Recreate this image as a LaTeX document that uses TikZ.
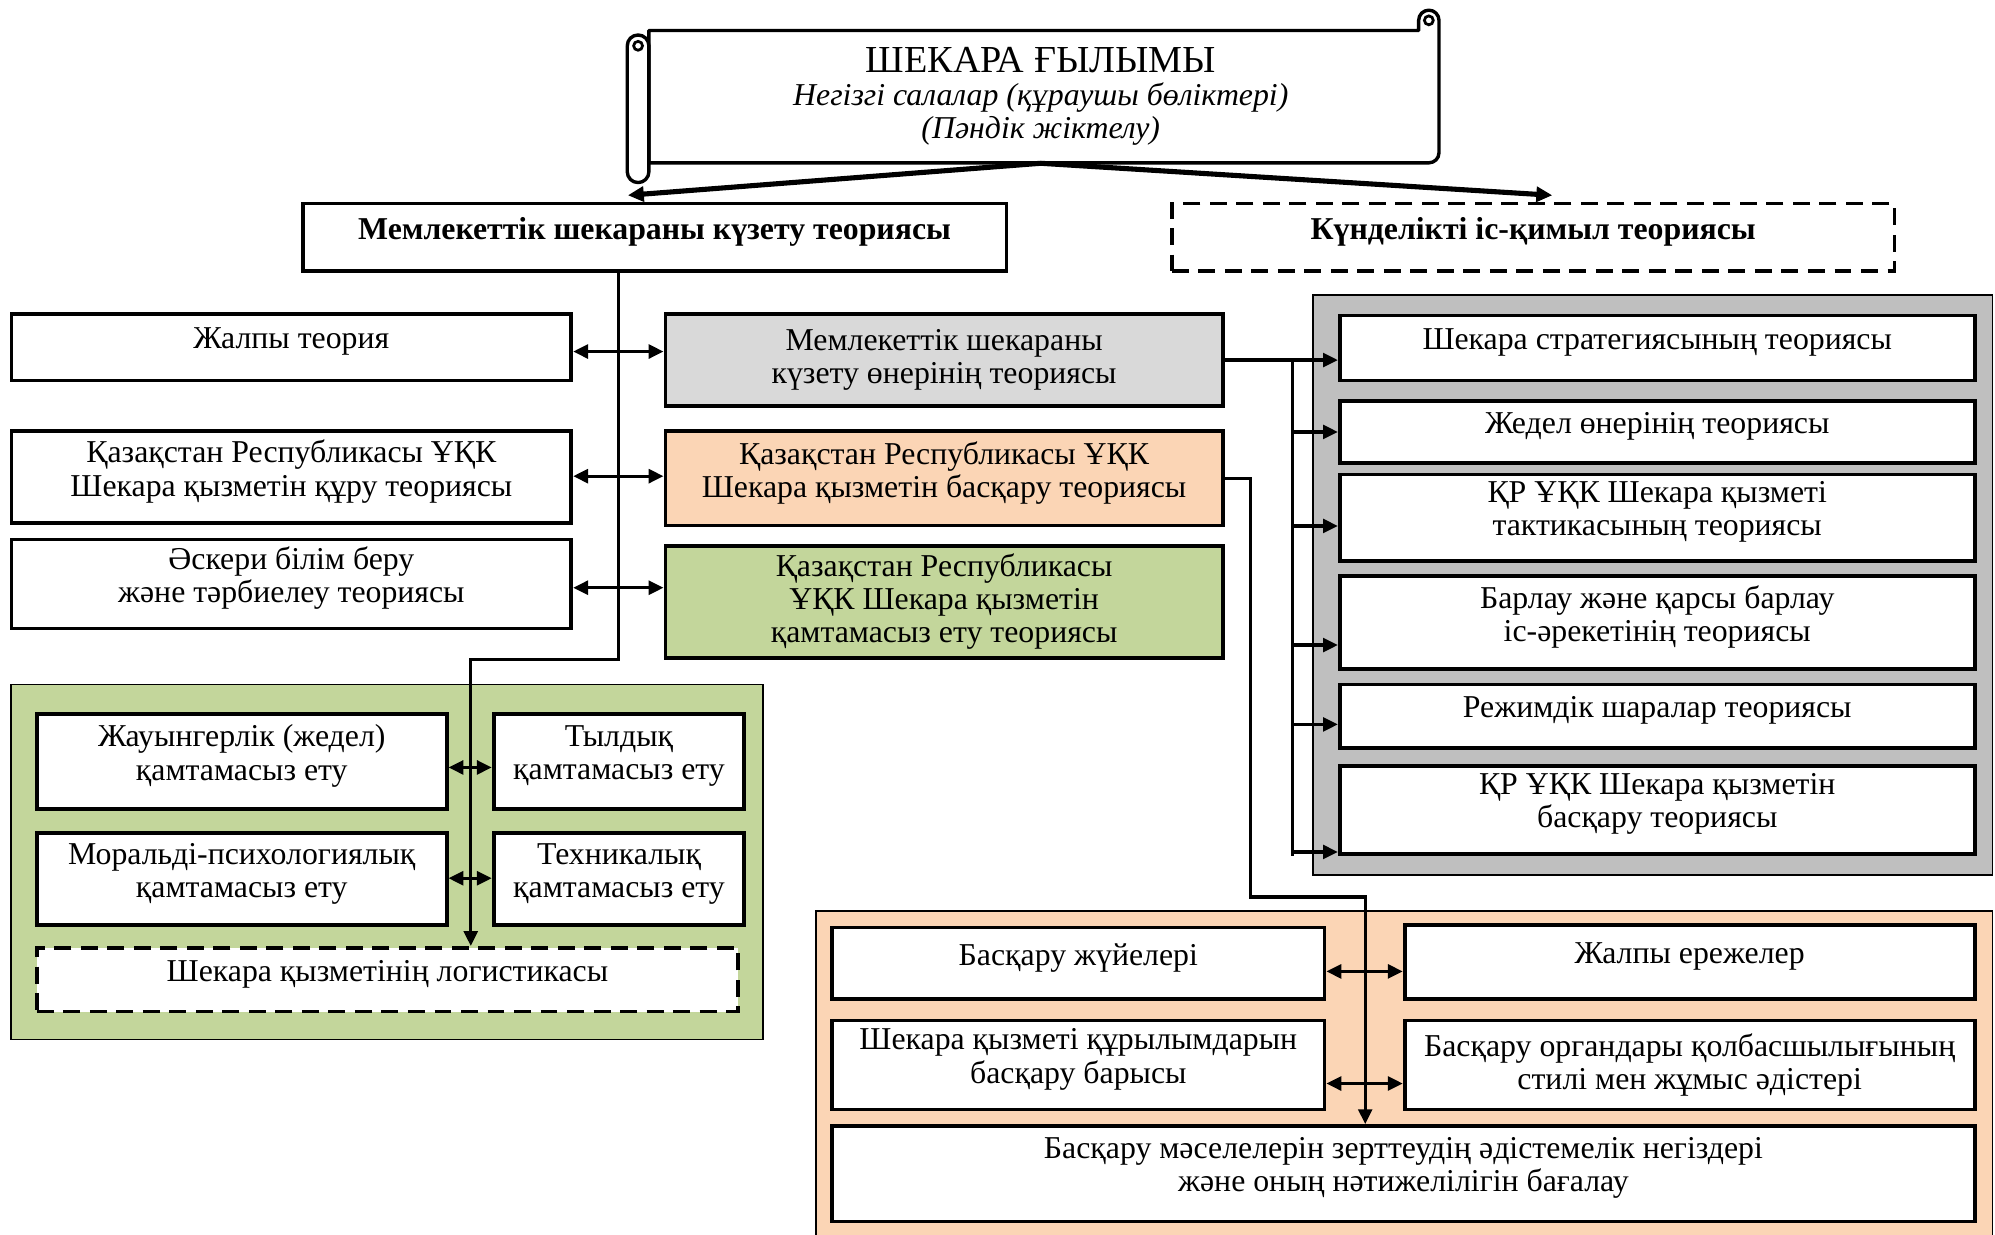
\documentclass[tikz,border=0pt]{standalone}
\usepackage{fontspec}
\setmainfont{Liberation Serif}
\usepackage{tikz}
\usetikzlibrary{arrows.meta, calc}
\definecolor{panelgray}{HTML}{BFBFBF}
\definecolor{boxgray}{HTML}{D9D9D9}
\definecolor{peach}{HTML}{FBD5B5}
\definecolor{leaf}{HTML}{C3D69B}
\tikzset{
	wh/.style 2 args = {minimum width=#1*0.6pt, minimum height=#2*0.6pt},
	block/.style     = {shape=rectangle, draw, line width=1.8pt,
		fill=white, align=center, inner sep=0pt, text depth=8.5pt},
	midblock/.style  = {block, text depth=},
	dashblock/.style = {block, dash pattern=on 8pt off 4.5pt},
	panel/.style     = {draw, line width=0.9pt},
	scrolline/.style = {draw, line width=1.6pt, line join=round},
	link/.style      = {draw, line width=1.5pt},
	tolink/.style    = {link, -{Triangle[length=7pt, width=6.5pt]}},
	twolink/.style   = {link, {Triangle[length=7pt, width=6.5pt]}-{Triangle[length=7pt, width=6.5pt]}},
	bigarrow/.style  = {draw, line width=2.4pt, -{Triangle[length=7.5pt, width=7pt]}}
}
\begin{document}
\begin{tikzpicture}
	[
	x                 = 0.6pt,
	y                 = -0.6pt,
	every node/.style = {font=\fontsize{15}{15.6}\selectfont}
	]
	\useasboundingbox (0,0) rectangle (1568,970);
	\clip (0,0) rectangle (1568,970);
	% scroll
	\path[scrolline, fill=white] (510,24) -- (1115,24) -- (1115,16)
		arc[start angle=180, end angle=360, radius=8] -- (1131,120)
		arc[start angle=0, end angle=90, radius=8] -- (510,128) -- cycle;
	\draw[line width=1.3pt] (1123,16) circle[radius=3.5];
	\path[scrolline, fill=white] (493,36) -- (493,135)
		arc[start angle=180, end angle=0, radius=8.5] -- (510,36)
		arc[start angle=0, end angle=-180, radius=8.5];
	\draw[line width=1.3pt] (501.5,36) circle[radius=3.5];
	\node[align=center, inner sep=0pt, wh={621}{104}] (scroll) at (818,76)
		{{\fontsize{18}{20}\selectfont ШЕКАРА ҒЫЛЫМЫ}\\
		\textit{Негізгі салалар (құраушы бөліктері)}\\
		\textit{(Пәндік жіктелу)}};
	% panels
	\path[panel, fill=panelgray] (1032,232) rectangle (1566,688);
	\path[panel, fill=leaf] (9,538) rectangle (600,817);
	\path[panel, fill=peach] (641,716) rectangle (1566,1000);
	% top row
	\node[block, wh={553}{53}] (state) at (514.5,186.5)
		{\textbf{Мемлекеттік шекараны күзету теориясы}};
	\node[dashblock, wh={568}{53}] (daily) at (1205,186.5)
		{\textbf{Күнделікті іс-қимыл теориясы}};
	% left column
	\node[block, wh={440}{52}] (gen) at (229,273) {Жалпы теория};
	\node[block, wh={440}{72}] (build) at (229,375)
		{Қазақстан Республикасы ҰҚК\\Шекара қызметін құру теориясы};
	\node[block, wh={440}{70}] (edu) at (229,459)
		{Әскери білім беру\\және тәрбиелеу теориясы};
	% middle column
	\node[midblock, fill=boxgray, wh={438}{72}] (art) at (742,283)
		{Мемлекеттік шекараны\\күзету өнерінің теориясы};
	\node[block, fill=peach, wh={438}{74}] (mgmt) at (742,376)
		{Қазақстан Республикасы ҰҚК\\Шекара қызметін басқару теориясы};
	\node[midblock, fill=leaf, wh={438}{88}] (sup) at (742,473)
		{Қазақстан Республикасы\\ҰҚК Шекара қызметін\\қамтамасыз ету теориясы};
	% gray panel
	\node[block, wh={499}{51}] (r1) at (1302.5,273.5) {Шекара стратегиясының теориясы};
	\node[block, wh={499}{49}] (r2) at (1302.5,339.5) {Жедел өнерінің теориясы};
	\node[block, wh={499}{68}] (r3) at (1302.5,407)
		{ҚР ҰҚК Шекара қызметі\\тактикасының теориясы};
	\node[block, wh={499}{73}] (r4) at (1302.5,489.5)
		{Барлау және қарсы барлау\\іс-әрекетінің теориясы};
	\node[block, wh={499}{50}] (r5) at (1302.5,563) {Режимдік шаралар теориясы};
	\node[block, wh={499}{69}] (r6) at (1302.5,636.5)
		{ҚР ҰҚК Шекара қызметін\\басқару теориясы};
	% green panel
	\node[block, wh={322}{75}] (comb) at (190,598.5)
		{Жауынгерлік (жедел)\\қамтамасыз ету};
	\node[block, wh={197}{75}] (rear) at (486.5,598.5)
		{Тылдық\\қамтамасыз ету};
	\node[block, wh={322}{72}] (moral) at (190,691)
		{Моральді-психологиялық\\қамтамасыз ету};
	\node[block, wh={197}{72}] (tech) at (486.5,691)
		{Техникалық\\қамтамасыз ету};
	\node[dashblock, wh={551}{50}] (log) at (304.5,770)
		{Шекара қызметінің логистикасы};
	% peach panel
	\node[block, wh={387}{56}] (sys) at (847.5,757) {Басқару жүйелері};
	\node[block, wh={448}{58}] (rules) at (1328,756) {Жалпы ережелер};
	\node[block, wh={387}{70}] (proc) at (847.5,837)
		{Шекара қызметі құрылымдарын\\басқару барысы};
	\node[midblock, wh={448}{70}] (org) at (1328,837)
		{Басқару органдары қолбасшылығының\\стилі мен жұмыс әдістері};
	\node[block, wh={898}{75}] (meth) at (1103,922.5)
		{Басқару мәселелерін зерттеудің әдістемелік негіздері\\және оның нәтижелілігін бағалау};
	% connectors
	\draw[bigarrow] (scroll.south) -- ($(state.north)+(-21,-5)$);
	\draw[bigarrow] (scroll.south) -- ($(daily.north)+(15,-5)$);
	\coordinate (trunk) at (486,0);
	\coordinate (gtrunk) at (370,0);
	\draw[tolink] (state.south -| trunk) -- (trunk |- sup.south) -| (log.north -| gtrunk);
	\foreach \a/\b/\f in {gen/art/0.44, build/mgmt/0.51, edu/sup/0.46,
		comb/rear/0.44, moral/tech/0.51, sys/rules/0.39, proc/org/0.3}
	{
		\coordinate (p) at ($(\a.south east)!\f!(\a.north east)$);
		\draw[twolink] (p) -- (p -| \b.west);
	}
	\coordinate (bus) at (1016,0);
	\draw[tolink] (art.east) -- (art.east -| r1.west);
	\draw[link] (bus |- art.east) -- (bus |- r6.south);
	\foreach \n/\f in {r2/0.5, r3/0.41, r4/0.27, r5/0.38, r6/0.04}
	{
		\coordinate (e) at ($(\n.south west)!\f!(\n.north west)$);
		\draw[tolink] (bus |- e) -- (e);
	}
	\coordinate (pbend) at (983,705);
	\coordinate (ptrunk) at (1073,0);
	\draw[tolink] (mgmt.east) -| (pbend) -| (meth.north -| ptrunk);
\end{tikzpicture}
\end{document}
